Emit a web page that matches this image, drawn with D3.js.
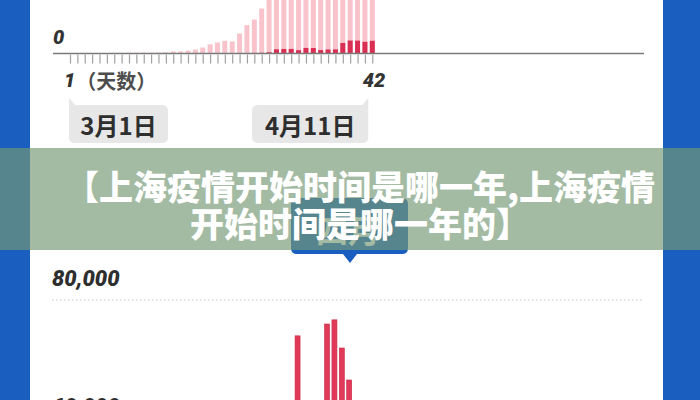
<!DOCTYPE html>
<html><head><meta charset="utf-8">
<script src="https://cdn.jsdelivr.net/npm/d3@7"></script>
<style>html,body{margin:0;padding:0;background:#fff;}svg{display:block;}</style>
</head><body>
<svg id="c" width="700" height="400"></svg>
<script>
// ---- data ----
const days = d3.range(1, 43); // 1..42 (3月1日 .. 4月11日)
const confirmed = [0,0,0,0,0,0,0,0,0,0,0,0,0,0,5,8,20,8,17,24,31,4,4,29,38,45,50,96,326,355,358,260,438,425,268,311,322,824,1015,1006,914,994];
const asymptomatic = [2,4,10,14,25,40,45,55,60,60,65,60,70,80,150,150,200,300,450,690,830,990,940,1530,2180,2610,3460,4381,5656,5298,4144,6051,7788,8581,13086,16766,19660,20398,22609,23937,25173,22348];
const lowerDays = [32,36,37,38,39];
const lowerValues = [74400,76250,76900,72500,67500];
const topTick = ["0"];
const lowerTick = ["80,000","60,000"];
const lowerTickValues = [80000,60000];
const axisLabels = {start:"1", unit:"（天数）", end:"42"};
const dateLabels = ["3月1日","4月11日"];
const bannerLines = ["【上海疫情开始时间是哪一年,上海疫情","开始时间是哪一年的】"];
const tipText = "四月";

const svg = d3.select("#c");
const W = 700, H = 400;
const blue = "#1a5ec0";
const cjk = "'Noto Sans CJK SC','Noto Sans',sans-serif";
const num = "Roboto,'Liberation Sans',sans-serif";

// side bars
svg.append("rect").attr("x",0).attr("y",0).attr("width",30).attr("height",H).attr("fill",blue);
svg.append("rect").attr("x",663).attr("y",0).attr("width",37).attr("height",H).attr("fill",blue);

// scales
const x = d3.scaleLinear().domain([1,42]).range([70,372.3]);
const yTop = d3.scaleLinear().domain([0,4180]).range([53.5,0]);
const yLow = d3.scaleLinear().domain([0,80000]).range([812,300]);
const bw = 5;

// top chart bars
const gTop = svg.append("g");
gTop.selectAll("rect.light").data(days).join("rect").attr("class","light")
  .attr("x",d=>x(d)-bw/2).attr("width",bw)
  .attr("y",d=>yTop(confirmed[d-1]+asymptomatic[d-1]))
  .attr("height",d=>yTop(0)-yTop(confirmed[d-1]+asymptomatic[d-1]))
  .attr("fill","#f8c3cb");
gTop.selectAll("rect.dark").data(days).join("rect").attr("class","dark")
  .attr("x",d=>x(d)-bw/2).attr("width",bw)
  .attr("y",d=>yTop(confirmed[d-1]))
  .attr("height",d=>yTop(0)-yTop(confirmed[d-1]))
  .attr("fill","#d92f52");

// axis line + ticks
svg.append("line").attr("x1",53).attr("x2",644).attr("y1",yTop(0)).attr("y2",yTop(0))
  .attr("stroke","#7a7a7a").attr("stroke-width",1.5);
const ax = svg.append("g").attr("transform",`translate(0,${yTop(0)+1})`)
  .call(d3.axisBottom(x).tickValues(days).tickFormat("").tickSize(9).tickSizeOuter(0));
ax.select(".domain").remove();
ax.selectAll(".tick line").attr("stroke","#a0a0a0").attr("stroke-width",1.2);

// top y label
svg.append("text").attr("x",53).attr("y",37).attr("dominant-baseline","central")
  .attr("font-family",num).attr("font-weight",900).attr("font-style","italic")
  .attr("font-size",20).attr("fill","#333").text(topTick[0]);

// x labels
const xl = svg.append("text").attr("x",64).attr("y",80).attr("dominant-baseline","central");
xl.append("tspan").attr("font-family",num).attr("font-weight",900).attr("font-style","italic")
  .attr("font-size",20).attr("fill","#333").text(axisLabels.start);
xl.append("tspan").attr("dx",1).attr("font-family",cjk).attr("font-weight",700)
  .attr("font-size",20).attr("fill","#4d4d4d").text(axisLabels.unit);
svg.append("text").attr("x",x(42)+13).attr("y",80).attr("dominant-baseline","central")
  .attr("text-anchor","end")
  .attr("font-family",num).attr("font-weight",900).attr("font-style","italic")
  .attr("font-size",20).attr("fill","#333").text(axisLabels.end);

// date bubbles
function bubble(x0,x1,tailLeft,label){
  const y0=105,y1=143,r=6,tailTop=98,tw=6;
  let p;
  if(tailLeft){
    p=`M${x0},${tailTop} L${x0+tw},${y0} L${x1-r},${y0} Q${x1},${y0} ${x1},${y0+r} L${x1},${y1-r} Q${x1},${y1} ${x1-r},${y1} L${x0+r},${y1} Q${x0},${y1} ${x0},${y1-r} Z`;
  } else {
    p=`M${x1},${tailTop} L${x1},${y1-r} Q${x1},${y1} ${x1-r},${y1} L${x0+r},${y1} Q${x0},${y1} ${x0},${y1-r} L${x0},${y0+r} Q${x0},${y0} ${x0+r},${y0} L${x1-tw},${y0} Z`;
  }
  svg.append("path").attr("d",p).attr("fill","#e7e7e7");
  svg.append("text").attr("x",(x0+x1)/2).attr("y",124).attr("dominant-baseline","central")
    .attr("text-anchor","middle").attr("font-family",cjk).attr("font-weight",700)
    .attr("font-size",24).attr("fill","#2e2e2e").text(label);
}
bubble(x(1)-1,168,true,dateLabels[0]);
bubble(252,x(42)-4,false,dateLabels[1]);

// lower chart
svg.append("line").attr("x1",52).attr("x2",643).attr("y1",300).attr("y2",300)
  .attr("stroke","#c8c8c8").attr("stroke-width",1.2).attr("stroke-dasharray","1.5,2.5");
lowerTickValues.forEach((v,i)=>{
  svg.append("text").attr("x",52).attr("y",yLow(v)-22).attr("dominant-baseline","central")
    .attr("font-family",num).attr("font-weight",900).attr("font-style","italic")
    .attr("font-size",22).attr("fill","#2e2e2e").text(lowerTick[i]);
});
svg.append("g").selectAll("rect").data(lowerDays).join("rect")
  .attr("x",(d)=>x(d)-bw/2-1).attr("width",bw)
  .attr("y",(d,i)=>yLow(lowerValues[i])).attr("height",(d,i)=>yLow(0)-yLow(lowerValues[i]))
  .attr("fill","#e03a58").attr("stroke","#c92a48").attr("stroke-width",0.6);

// blue tooltip (partly behind banner)
svg.append("path")
  .attr("d","M297,198 L402,198 Q408,198 408,204 L408,248 Q408,254 402,254 L357,254 L350,263 L343,254 L297,254 Q291,254 291,248 L291,204 Q291,198 297,198 Z")
  .attr("fill",blue);
svg.append("text").attr("x",348).attr("y",229).attr("dominant-baseline","central")
  .attr("text-anchor","middle").attr("font-family",cjk).attr("font-weight",700)
  .attr("font-size",32).attr("fill","#fff").text(tipText);

// banner overlay
svg.append("rect").attr("x",0).attr("y",148).attr("width",W).attr("height",102)
  .attr("fill","rgb(118,152,118)").attr("fill-opacity",0.67);
bannerLines.forEach((t,i)=>{
  svg.append("text").attr("x",360).attr("y",185+i*37).attr("dominant-baseline","central")
    .attr("text-anchor","middle").attr("font-family",cjk).attr("font-weight",900)
    .attr("font-size",34).attr("fill","#fff").text(t);
});
</script>
</body></html>
